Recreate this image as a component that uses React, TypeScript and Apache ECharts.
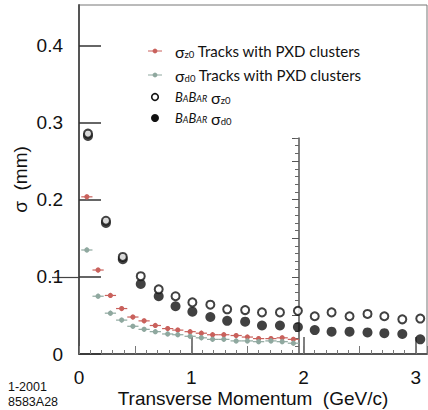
import React, { useEffect, useRef } from "react";
import * as echarts from "echarts";

const xTicks = [0, 1, 2, 3];
const yTicks = [0, 0.1, 0.2, 0.3, 0.4];
const pxdX = [0.07, 0.17, 0.28, 0.38, 0.48, 0.58, 0.68, 0.79, 0.88, 0.99, 1.09, 1.19, 1.29, 1.4, 1.5, 1.6, 1.71, 1.81, 1.91];
const pxdZ0 = [0.204, 0.109, 0.076, 0.059, 0.048, 0.043, 0.037, 0.033, 0.031, 0.029, 0.027, 0.025, 0.025, 0.024, 0.022, 0.02, 0.02, 0.021, 0.019];
const pxdD0 = [0.135, 0.075, 0.053, 0.044, 0.036, 0.032, 0.029, 0.026, 0.025, 0.023, 0.021, 0.019, 0.019, 0.017, 0.017, 0.016, 0.017, 0.016, 0.014];
const babarX = [0.08, 0.24, 0.39, 0.55, 0.71, 0.86, 1.01, 1.17, 1.32, 1.48, 1.63, 1.79, 1.95, 2.1, 2.25, 2.41, 2.57, 2.72, 2.88, 3.04];
const babarZ0 = [0.286, 0.173, 0.126, 0.101, 0.084, 0.075, 0.067, 0.064, 0.058, 0.057, 0.054, 0.054, 0.056, 0.049, 0.054, 0.049, 0.052, 0.049, 0.045, 0.046];
const babarD0 = [0.283, 0.17, 0.123, 0.091, 0.075, 0.062, 0.055, 0.048, 0.043, 0.042, 0.037, 0.037, 0.035, 0.031, 0.029, 0.029, 0.028, 0.027, 0.026, 0.019];

const RED = "#c9615c";
const GRAY = "#8fa89f";
const INK = "#111111";
const AXIS = "#555555";
const HALF = 0.05;
const SANS = "'Liberation Sans', Arial, sans-serif";

function errSeries(name: string, ys: number[], color: string) {
  return {
    type: "custom",
    name,
    xAxisIndex: 0,
    yAxisIndex: 0,
    data: pxdX.map((x, i) => [x, ys[i]]),
    renderItem: (params: any, api: any) => {
      const x = api.value(0);
      const y = api.value(1);
      const c = api.coord([x, y]);
      const l = api.coord([x - HALF, y]);
      const r = api.coord([x + HALF, y]);
      return {
        type: "group",
        children: [
          { type: "line", shape: { x1: l[0], y1: l[1], x2: r[0], y2: r[1] }, style: { stroke: color, lineWidth: 1.2 } },
          { type: "line", shape: { x1: c[0], y1: c[1] - 2.5, x2: c[0], y2: c[1] + 2.5 }, style: { stroke: color, lineWidth: 1 } },
          { type: "circle", shape: { cx: c[0], cy: c[1], r: 2.6 }, style: { fill: color } },
        ],
      };
    },
  };
}

const legendFont = "Lato, 'Open Sans', sans-serif";
const richBase = {
  t: { fontSize: 15, fontFamily: legendFont, fill: "#111" },
  s: { fontSize: 16, fontFamily: legendFont, fill: "#111" },
  sub: { fontSize: 9.5, fontFamily: legendFont, fill: "#111", padding: [6, 0, 0, 0] },
  big: { fontSize: 13, fontStyle: "italic", fontFamily: legendFont, fill: "#111" },
  sm: { fontSize: 9, fontStyle: "italic", fontFamily: legendFont, fill: "#111", padding: [3, 0, 0, 0] },
};

export default function App() {
  const ref = useRef<HTMLDivElement>(null);
  useEffect(() => {
    if (!ref.current) return;
    const chart = echarts.init(ref.current, null, { renderer: "svg" });
    const mk = (y: number, color: string, kind: string) => {
      if (kind === "err") {
        return [
          { type: "line", shape: { x1: 148, y1: y, x2: 162, y2: y }, style: { stroke: color, lineWidth: 1 } },
          { type: "circle", shape: { cx: 155, cy: y, r: 2.4 }, style: { fill: color } },
        ];
      }
      if (kind === "open") {
        return [{ type: "circle", shape: { cx: 155, cy: y, r: 3.3 }, style: { fill: "#fff", stroke: INK, lineWidth: 1.6 } }];
      }
      return [{ type: "circle", shape: { cx: 155, cy: y, r: 4 }, style: { fill: INK } }];
    };
    const legendText = (y: number, text: string) => ({
      type: "text",
      x: 175,
      y,
      style: { text, rich: richBase, verticalAlign: "middle", align: "left" },
    });
    chart.setOption({
      animation: false,
      backgroundColor: "#ffffff",
      grid: [
        { left: 79, right: 1, top: 5, bottom: 56, show: true, borderColor: "#777", borderWidth: 1, outerBoundsMode: "none", containLabel: false },
        { left: 299, width: 1, top: 138, bottom: 56, show: false, outerBoundsMode: "none", containLabel: false },
      ],
      xAxis: [
        {
          type: "value",
          gridIndex: 0,
          min: 0,
          max: 3.1,
          interval: 1,
          axisLine: { show: true, lineStyle: { color: AXIS, width: 2 } },
          axisTick: { show: true, inside: true, length: 17, lineStyle: { color: AXIS, width: 1.5 }, customValues: xTicks },
          minorTick: { show: true, splitNumber: 10, length: 4, lineStyle: { color: "#777", width: 1 } },
          axisLabel: { fontSize: 19, color: "#111", fontFamily: SANS, margin: 14, customValues: xTicks, formatter: (v: number) => String(v) },
          splitLine: { show: false },
          name: "Transverse Momentum  (GeV/c)",
          nameLocation: "middle",
          nameGap: 44,
          nameMoveOverlap: false,
          nameTextStyle: { fontSize: 19, color: "#111", fontFamily: SANS, verticalAlign: "middle" },
        },
        {
          type: "value",
          gridIndex: 0,
          min: 0,
          max: 3.1,
          interval: 0.5,
          position: "bottom",
          axisLine: { show: false },
          axisTick: { show: true, inside: true, length: 8, lineStyle: { color: "#777", width: 1 } },
          axisLabel: { show: false },
          splitLine: { show: false },
        },
        { type: "value", gridIndex: 1, min: 0, max: 1, show: false },
      ],
      yAxis: [
        {
          type: "value",
          gridIndex: 0,
          min: 0,
          max: 0.453,
          interval: 0.1,
          axisLine: { show: true, lineStyle: { color: AXIS, width: 2 } },
          axisTick: { show: true, inside: true, length: 22, customValues: yTicks, lineStyle: { color: "#333", width: 1.5 } },
          axisLabel: { fontSize: 19, color: "#111", fontFamily: SANS, margin: 16, customValues: yTicks, formatter: (v: number) => (v === 0 ? "0" : v.toFixed(1)) },
          splitLine: { show: false },
          name: "σ  (mm)",
          nameLocation: "middle",
          nameRotate: 90,
          nameGap: 59,
          nameMoveOverlap: false,
          nameTextStyle: { fontSize: 19, color: "#111", fontFamily: SANS, verticalAlign: "middle" },
        },
        {
          type: "value",
          gridIndex: 0,
          min: 0,
          max: 0.453,
          interval: 0.1,
          position: "right",
          axisLine: { show: false },
          axisTick: { show: true, inside: true, length: 27, customValues: [0.1], lineStyle: { color: "#444", width: 1.2 } },
          axisLabel: { show: false },
          splitLine: { show: false },
        },
        {
          type: "value",
          gridIndex: 1,
          min: 0,
          max: 0.28,
          interval: 0.05,
          position: "left",
          axisLine: { show: true, lineStyle: { color: AXIS, width: 1.5 } },
          axisTick: { show: true, inside: false, length: 7, lineStyle: { color: AXIS, width: 1 } },
          minorTick: { show: true, splitNumber: 5, length: 4, lineStyle: { color: "#666", width: 1 } },
          axisLabel: { show: false },
          splitLine: { show: false },
        },
      ],
      series: [
        errSeries("σz0 PXD", pxdZ0, RED),
        errSeries("σd0 PXD", pxdD0, GRAY),
        {
          type: "scatter",
          name: "BaBar σd0",
          xAxisIndex: 0,
          yAxisIndex: 0,
          symbol: "circle",
          symbolSize: 10,
          itemStyle: { color: INK },
          data: babarX.map((x, i) => [x, babarD0[i]]),
        },
        {
          type: "scatter",
          name: "BaBar σz0",
          xAxisIndex: 0,
          yAxisIndex: 0,
          symbol: "circle",
          symbolSize: 8,
          itemStyle: { color: "#ffffff", borderColor: INK, borderWidth: 2 },
          data: babarX.map((x, i) => [x, babarZ0[i]]),
        },
      ],
      graphic: [
        ...mk(51, RED, "err"),
        ...mk(75, GRAY, "err"),
        ...mk(97, INK, "open"),
        ...mk(118, INK, "filled"),
        legendText(51, "{s|σ}{sub|z0}{t| Tracks with PXD clusters}"),
        legendText(75, "{s|σ}{sub|d0}{t| Tracks with PXD clusters}"),
        legendText(97, "{big|B}{sm|A}{big|B}{sm|AR}{t| }{s|σ}{sub|z0}"),
        legendText(118, "{big|B}{sm|A}{big|B}{sm|AR}{t| }{s|σ}{sub|d0}"),
        {
          type: "text",
          x: 8,
          y: 380,
          style: { text: "1-2001\n8583A28", fontSize: 12.5, lineHeight: 14.5, fill: "#111", fontFamily: SANS },
        },
      ],
    });
    return () => chart.dispose();
  }, []);
  return <div ref={ref} style={{ width: 428, height: 410, position: "absolute", left: 0, top: 0 }} />;
}
